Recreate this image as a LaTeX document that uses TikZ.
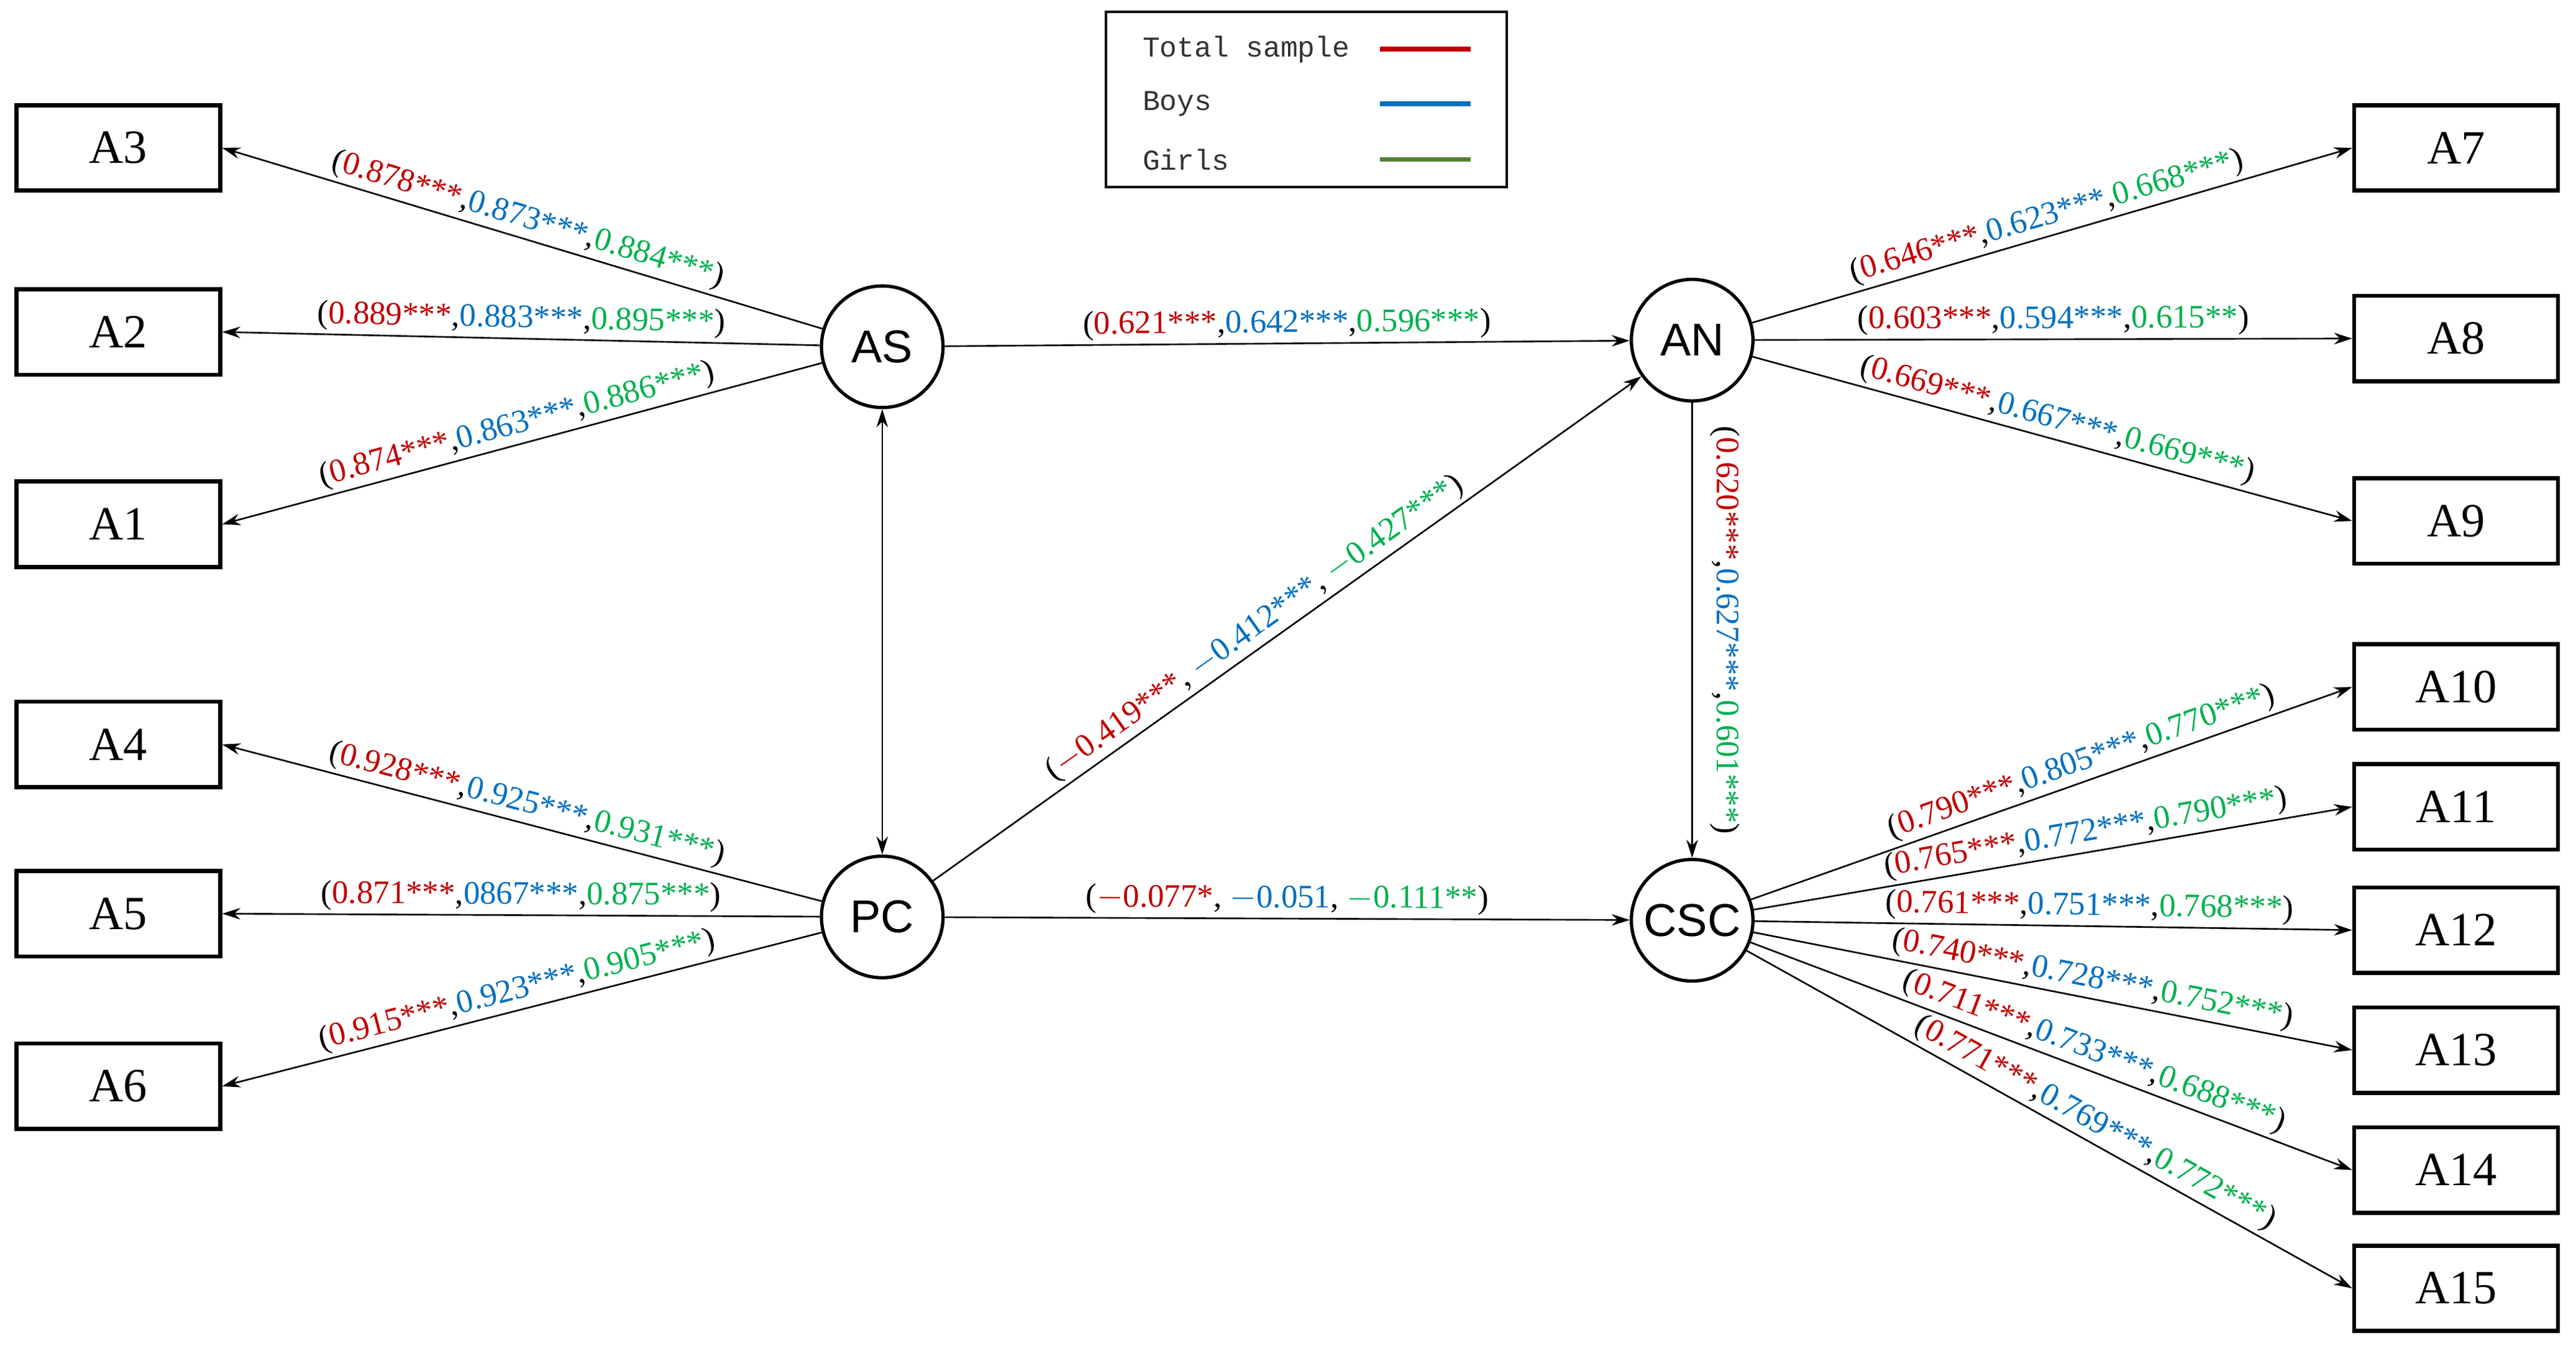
\documentclass[tikz,border=0pt]{standalone}
\usepackage{fontspec}
\setmainfont{Liberation Serif}
\newfontfamily\sansf{Liberation Sans}
\newfontfamily\monof{Liberation Mono}
\usetikzlibrary{arrows.meta}
\definecolor{cR}{RGB}{192,0,0}
\definecolor{cB}{RGB}{0,112,192}
\definecolor{cG}{RGB}{0,176,80}
\definecolor{cLG}{RGB}{84,130,53}
\newcommand\trip[3]{(\textcolor{cR}{#1},\textcolor{cB}{#2},\textcolor{cG}{#3})}
\begin{document}
\begin{tikzpicture}[x=1pt,y=-1pt,
 box/.style={draw,line width=2.5pt,minimum width=124pt,minimum height=52pt,inner sep=0pt,font=\fontsize{29}{30}\selectfont},
 lat/.style={draw,circle,line width=2pt,minimum size=74pt,inner sep=0pt,font=\sansf\fontsize{28}{30}\selectfont},
 ar/.style={line width=1pt,-{Stealth[length=11pt,width=7pt]}},
 lb/.style={midway,sloped,above,inner sep=2pt,font=\fontsize{20}{22}\selectfont},
 leg/.style={anchor=west,font=\monof\fontsize{17.5}{19}\selectfont,text=black!80}]
\useasboundingbox (0,0) rectangle (1568,820);
% legend
\node[draw,line width=1.5pt,minimum width=244pt,minimum height=107pt] (L) at (795,60.5) {};
\node[leg] (t1) at (692,30) {Total sample};
\node[leg] (t2) at (692,63) {Boys};
\node[leg] (t3) at (692,97) {Girls};
\coordinate (l1a) at (840,30); \coordinate (l1b) at (895,30);
\coordinate (l2a) at (840,63); \coordinate (l2b) at (895,63);
\coordinate (l3a) at (840,97); \coordinate (l3b) at (895,97);
\draw[cR,line width=3pt] (l1a)--(l1b);
\draw[cB,line width=3pt] (l2a)--(l2b);
\draw[cLG,line width=3pt] (l3a)--(l3b);
% boxes
\node[box] (A3) at (72,90) {A3};
\node[box] (A2) at (72,202) {A2};
\node[box] (A1) at (72,319) {A1};
\node[box] (A4) at (72,453) {A4};
\node[box] (A5) at (72,556) {A5};
\node[box] (A6) at (72,661) {A6};
\node[box] (A7) at (1495,90) {A7};
\node[box] (A8) at (1495,206) {A8};
\node[box] (A9) at (1495,317) {A9};
\node[box] (A10) at (1495,418) {A10};
\node[box] (A11) at (1495,491) {A11};
\node[box] (A12) at (1495,566) {A12};
\node[box] (A13) at (1495,639) {A13};
\node[box] (A14) at (1495,712) {A14};
\node[box] (A15) at (1495,784) {A15};
% latent
\node[lat] (AS) at (537,211) {AS};
\node[lat] (PC) at (537,558) {PC};
\node[lat] (AN) at (1030,207) {AN};
\node[lat] (CSC) at (1030,560) {CSC};
% edges
\draw[ar] (AS) -- (A3.east) node[lb]{\trip{0.878***}{0.873***}{0.884***}};
\draw[ar] (AS) -- (A2.east) node[lb]{\trip{0.889***}{0.883***}{0.895***}};
\draw[ar] (AS) -- (A1.east) node[lb]{\trip{0.874***}{0.863***}{0.886***}};
\draw[ar] (PC) -- (A4.east) node[lb]{\trip{0.928***}{0.925***}{0.931***}};
\draw[ar] (PC) -- (A5.east) node[lb]{\trip{0.871***}{0867***}{0.875***}};
\draw[ar] (PC) -- (A6.east) node[lb]{\trip{0.915***}{0.923***}{0.905***}};
\draw[line width=1pt,{Stealth[length=11pt,width=7pt]}-{Stealth[length=11pt,width=7pt]}] (AS) -- (PC);
\draw[ar] (AS) -- (AN) node[lb]{\trip{0.621***}{0.642***}{0.596***}};
\draw[ar] (PC) -- (AN) node[lb,pos=0.47]{(\textcolor{cR}{$-$0.419***}, \textcolor{cB}{$-$0.412***}, \textcolor{cG}{$-$0.427***})};
\draw[ar] (PC) -- (CSC) node[lb]{(\textcolor{cR}{$-$0.077*}, \textcolor{cB}{$-$0.051}, \textcolor{cG}{$-$0.111**})};
\draw[ar] (AN) -- (CSC) node[midway,xshift=20pt,rotate=-90,font=\fontsize{20}{22}\selectfont]{\trip{0.620***}{0.627***}{0.601***}};
\draw[ar] (AN) -- (A7.west) node[lb]{\trip{0.646***}{0.623***}{0.668***}};
\draw[ar] (AN) -- (A8.west) node[lb]{\trip{0.603***}{0.594***}{0.615**}};
\draw[ar] (AN) -- (A9.west) node[lb]{\trip{0.669***}{0.667***}{0.669***}};
\draw[ar] (CSC) -- (A10.west) node[lb,pos=0.56]{\trip{0.790***}{0.805***}{0.770***}};
\draw[ar] (CSC) -- (A11.west) node[lb,pos=0.56]{\trip{0.765***}{0.772***}{0.790***}};
\draw[ar] (CSC) -- (A12.west) node[lb,pos=0.56]{\trip{0.761***}{0.751***}{0.768***}};
\draw[ar] (CSC) -- (A13.west) node[lb,pos=0.56]{\trip{0.740***}{0.728***}{0.752***}};
\draw[ar] (CSC) -- (A14.west) node[lb,pos=0.56]{\trip{0.711***}{0.733***}{0.688***}};
\draw[ar] (CSC) -- (A15.west) node[lb,pos=0.56]{\trip{0.771***}{0.769***}{0.772***}};
\end{tikzpicture}
\end{document}
